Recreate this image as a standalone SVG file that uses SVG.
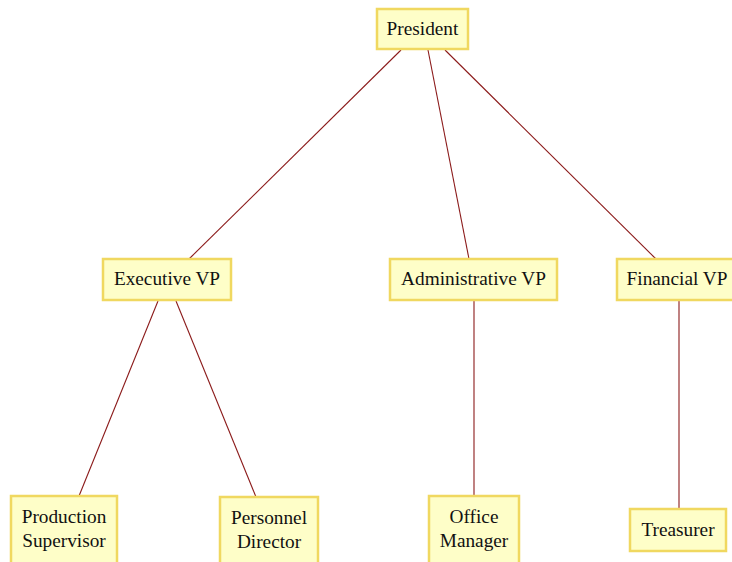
<svg xmlns="http://www.w3.org/2000/svg" width="732" height="562" viewBox="0 0 732 562">
<style>
.box{fill:#fefec8;stroke:#f0d860;stroke-width:2.5}
.t{font-family:"Liberation Serif","Times New Roman",serif;font-size:19.3px;fill:#111;text-anchor:middle}
.c{stroke:#8b1a1a;stroke-width:1.1;fill:none}
</style>
<rect width="732" height="562" fill="#fff"/>
<g id="connectors">
<line class="c" x1="401" y1="50" x2="189" y2="259"/>
<line class="c" x1="428" y1="50" x2="469" y2="259"/>
<line class="c" x1="445" y1="50" x2="656" y2="259"/>
<line class="c" x1="158" y1="301" x2="79" y2="496"/>
<line class="c" x1="176" y1="301" x2="256" y2="497"/>
<line class="c" x1="474" y1="301" x2="474" y2="496"/>
<line class="c" x1="679" y1="301" x2="679" y2="509"/>
</g>
<g id="president"><rect class="box" x="377" y="9" width="91" height="40"/><text class="t" x="422.5" y="35">President</text></g>
<g id="executive-vp"><rect class="box" x="103" y="259" width="128" height="41"/><text class="t" x="167" y="285">Executive VP</text></g>
<g id="administrative-vp"><rect class="box" x="390" y="259" width="167" height="41"/><text class="t" x="473.5" y="285">Administrative VP</text></g>
<g id="financial-vp"><rect class="box" x="617" y="259" width="118" height="41"/><text class="t" x="677" y="285">Financial VP</text></g>
<g id="production-supervisor"><rect class="box" x="11" y="496" width="106" height="70"/><text class="t" x="64" y="523">Production</text><text class="t" x="64" y="547">Supervisor</text></g>
<g id="personnel-director"><rect class="box" x="220" y="497" width="98" height="70"/><text class="t" x="269" y="524">Personnel</text><text class="t" x="269" y="548">Director</text></g>
<g id="office-manager"><rect class="box" x="429" y="496" width="90" height="70"/><text class="t" x="474" y="523">Office</text><text class="t" x="474" y="547">Manager</text></g>
<g id="treasurer"><rect class="box" x="630" y="509" width="96" height="42"/><text class="t" x="678" y="536">Treasurer</text></g>
</svg>
